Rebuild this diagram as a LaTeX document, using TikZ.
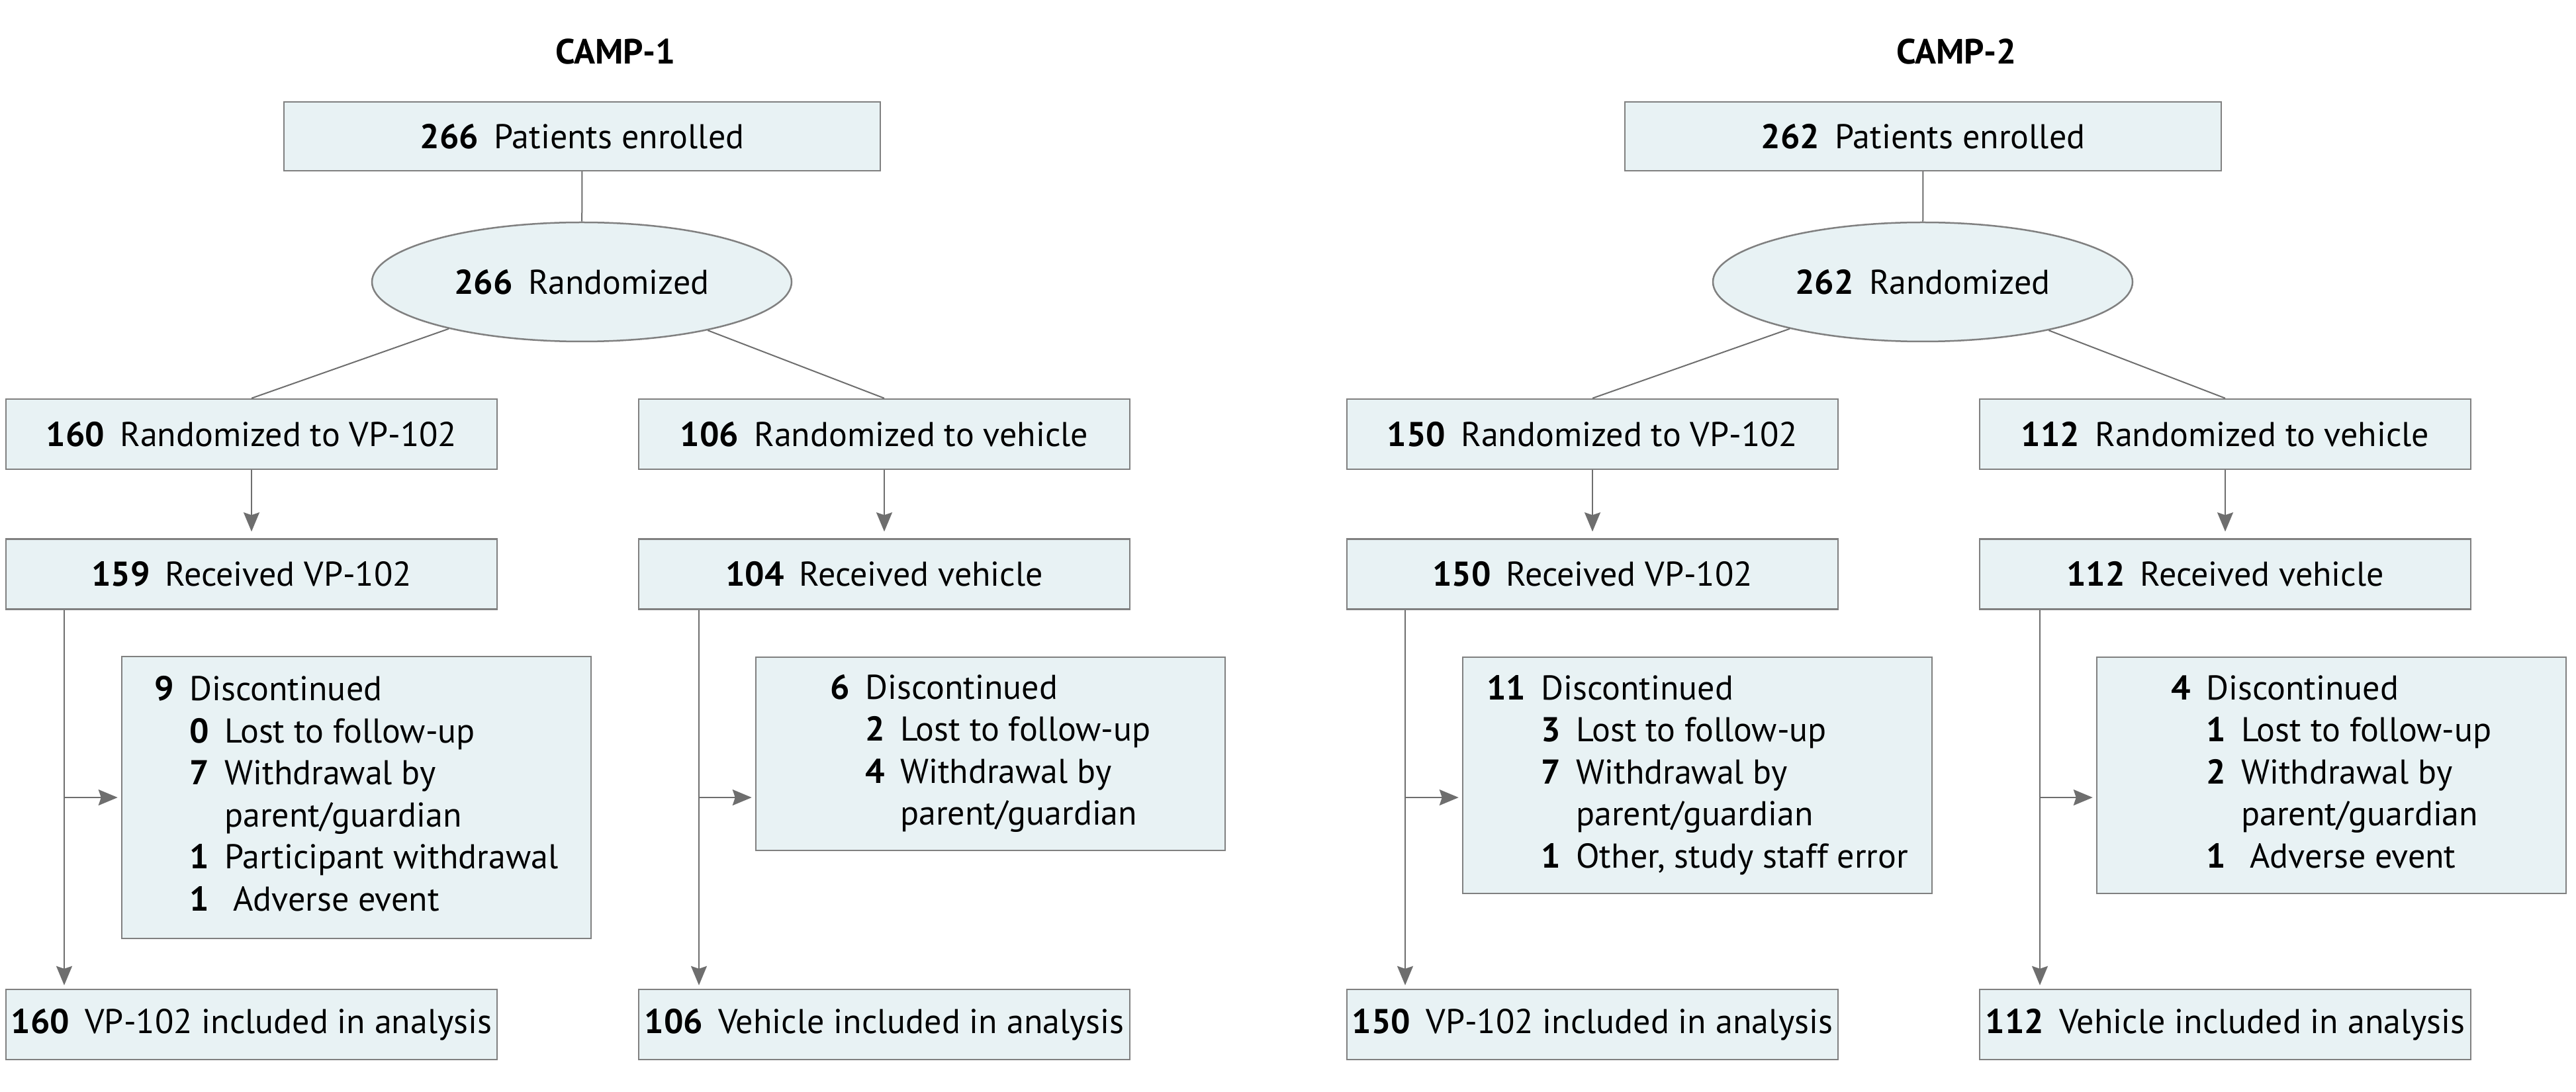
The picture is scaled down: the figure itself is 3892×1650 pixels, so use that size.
\documentclass[tikz,border=0pt]{standalone}
\usepackage{fontspec}
\setmainfont{PT Sans}
\usepackage{xcolor}
\usepackage{tikz}
\usetikzlibrary{shapes,shapes.geometric,arrows.meta,positioning,calc}
\definecolor{boxfill}{RGB}{232,242,244}
\definecolor{boxline}{RGB}{128,128,128}
\definecolor{linkgray}{RGB}{110,110,110}
\newcommand{\cnt}[1]{\textbf{#1}\hspace{0.45em}}

\begin{document}
\begin{tikzpicture}[
    x=0.2pt, y=-0.2pt,
    every node/.style={font=\fontsize{10.4}{12.7}\selectfont},
    box/.style={rectangle, draw=boxline, fill=boxfill, line width=0.5pt, inner sep=0pt, minimum width=148.4pt, minimum height=21.2pt},
    topbox/.style={box, minimum width=180.2pt, minimum height=20.8pt},
    randbox/.style={ellipse, draw=boxline, fill=boxfill, line width=0.5pt, inner sep=0pt, minimum width=126.8pt, minimum height=36pt},
    dropbox/.style={box, minimum width=141.8pt},
    title/.style={font=\fontsize{10.6}{12.7}\selectfont\bfseries},
    link/.style={draw=linkgray, line width=0.4pt},
    flow/.style={link, -{Stealth[length=5.8pt, width=4.8pt, inset=0.8pt]}, shorten >=1pt}
]
    \useasboundingbox (0,0) rectangle (3892,1650);

    % CAMP-1 nodes
    \node[title] (t1) at (930,78) {CAMP-1};
    \node[topbox] (en1) at (879.5,206) {\cnt{266}Patients enrolled};
    \node[randbox] (ra1) at (879,426) {\cnt{266}Randomized};
    \node[box] (rv1) at (380,656) {\cnt{160}Randomized to VP-102};
    \node[box] (rh1) at (1336,656) {\cnt{106}Randomized to vehicle};
    \node[box] (gv1) at (380,867.5) {\cnt{159}Received VP-102};
    \node[box] (gh1) at (1336,867.5) {\cnt{104}Received vehicle};
    \node[dropbox, minimum height=85.2pt] (dv1) at (538.5,1205) {%
        \begin{tabular}{@{}r@{\hspace{0.45em}}r@{\hspace{0.45em}}l@{}}
        \textbf{9} & \multicolumn{2}{@{}l@{}}{Discontinued}\\
        & \textbf{0} & Lost to follow-up\\
        & \textbf{7} & Withdrawal by\\
        & & parent/guardian\\
        & \textbf{1} & Participant withdrawal\\
        & \textbf{1} & \hspace{0.25em}Adverse event
        \end{tabular}};
    \node[dropbox, minimum height=58.4pt] (dh1) at (1496.5,1139) {%
        \begin{tabular}{@{}r@{\hspace{0.45em}}r@{\hspace{0.45em}}l@{}}
        \textbf{6} & \multicolumn{2}{@{}l@{}}{Discontinued}\\
        & \textbf{2} & Lost to follow-up\\
        & \textbf{4} & Withdrawal by\\
        & & parent/guardian
        \end{tabular}};
    \node[box] (av1) at (380,1548) {\cnt{160}VP-102 included in analysis};
    \node[box] (ah1) at (1336,1548) {\cnt{106}Vehicle included in analysis};
    \coordinate (jv1) at (97,1205);
    \coordinate (jh1) at (1056,1205);

    % CAMP-2 nodes
    \node[title] (t2) at (2956,78) {CAMP-2};
    \node[topbox] (en2) at (2905.5,206) {\cnt{262}Patients enrolled};
    \node[randbox] (ra2) at (2905,426) {\cnt{262}Randomized};
    \node[box] (rv2) at (2406,656) {\cnt{150}Randomized to VP-102};
    \node[box] (rh2) at (3362,656) {\cnt{112}Randomized to vehicle};
    \node[box] (gv2) at (2406,867.5) {\cnt{150}Received VP-102};
    \node[box] (gh2) at (3362,867.5) {\cnt{112}Received vehicle};
    \node[dropbox, minimum height=71.4pt] (dv2) at (2564.5,1171.5) {%
        \begin{tabular}{@{}r@{\hspace{0.45em}}r@{\hspace{0.45em}}l@{}}
        \textbf{11} & \multicolumn{2}{@{}l@{}}{Discontinued}\\
        & \textbf{3} & Lost to follow-up\\
        & \textbf{7} & Withdrawal by\\
        & & parent/guardian\\
        & \textbf{1} & Other, study staff error
        \end{tabular}};
    \node[dropbox, minimum height=71.4pt] (dh2) at (3522.5,1171.5) {%
        \begin{tabular}{@{}r@{\hspace{0.45em}}r@{\hspace{0.45em}}l@{}}
        \textbf{4} & \multicolumn{2}{@{}l@{}}{Discontinued}\\
        & \textbf{1} & Lost to follow-up\\
        & \textbf{2} & Withdrawal by\\
        & & parent/guardian\\
        & \textbf{1} & \hspace{0.25em}Adverse event
        \end{tabular}};
    \node[box] (av2) at (2406,1548) {\cnt{150}VP-102 included in analysis};
    \node[box] (ah2) at (3362,1548) {\cnt{112}Vehicle included in analysis};
    \coordinate (jv2) at (2123,1205);
    \coordinate (jh2) at (3082,1205);

    % Enrollment and randomization lines
    \draw[link] (en1) -- (ra1);
    \draw[link] (ra1) -- (rv1.north);
    \draw[link] (ra1) -- (rh1.north);
    \draw[link] (en2) -- (ra2);
    \draw[link] (ra2) -- (rv2.north);
    \draw[link] (ra2) -- (rh2.north);

    % Arm arrows
    \draw[flow, shorten >=2pt] (rv1) -- (gv1);
    \draw[flow, shorten >=2pt] (rh1) -- (gh1);
    \draw[flow, shorten >=2pt] (rv2) -- (gv2);
    \draw[flow, shorten >=2pt] (rh2) -- (gh2);

    % Analysis and discontinued arrows
    \draw[flow] (gv1.south -| jv1) -- (av1.north -| jv1);
    \draw[flow] (jv1) -- (dv1.west |- jv1);
    \draw[flow] (gh1.south -| jh1) -- (ah1.north -| jh1);
    \draw[flow] (jh1) -- (dh1.west |- jh1);
    \draw[flow] (gv2.south -| jv2) -- (av2.north -| jv2);
    \draw[flow] (jv2) -- (dv2.west |- jv2);
    \draw[flow] (gh2.south -| jh2) -- (ah2.north -| jh2);
    \draw[flow] (jh2) -- (dh2.west |- jh2);
\end{tikzpicture}
\end{document}
